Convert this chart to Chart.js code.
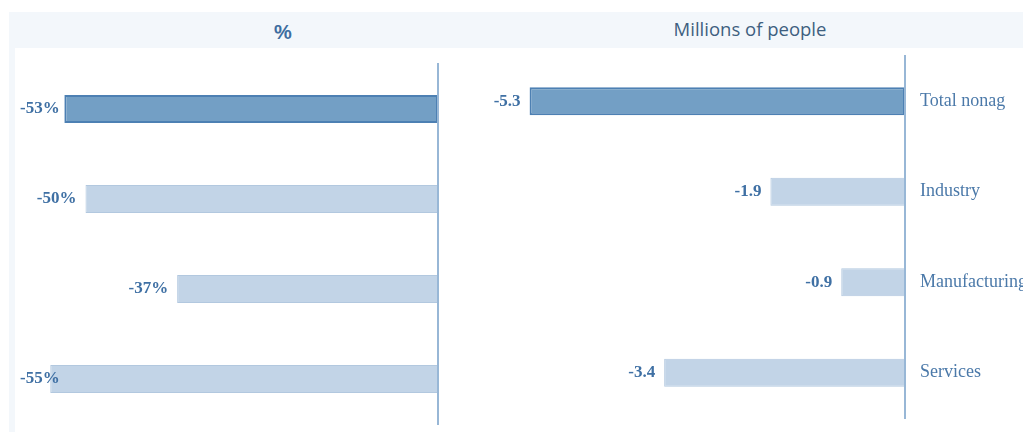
<!DOCTYPE html>
<html>
<head>
<meta charset="utf-8">
<script src="https://cdn.jsdelivr.net/npm/chart.js@4/dist/chart.umd.min.js"></script>
<style>
  html, body { margin: 0; padding: 0; background: #fff; overflow: hidden; }
  body { width: 1023px; height: 432px; position: relative; }
  .band { position: absolute; left: 9px; top: 12px; width: 1014px; height: 36px; background: #f3f7fb; }
  .strip { position: absolute; left: 9px; top: 48px; width: 6px; height: 384px; background: #f3f7fb; }
  .title { position: absolute; white-space: nowrap; transform: translateX(-50%); }
  #pctTitle { left: 283px; top: 21px; font: bold 20px "Liberation Sans", Arial, sans-serif; color: #3d6d9f; }
  #mopTitle { left: 750px; top: 16px; font: 18.5px "Open Sans", sans-serif; color: #3e5f80; }
  canvas { position: absolute; }
  #pctChart { left: 15px; top: 48px; }
  #mopChart { left: 450px; top: 48px; }
</style>
</head>
<body>
<div class="band"></div>
<div class="strip"></div>
<div class="title" id="pctTitle">%</div>
<div class="title" id="mopTitle">Millions of people</div>
<canvas id="pctChart" width="440" height="384"></canvas>
<canvas id="mopChart" width="573" height="384"></canvas>

<script>
// Job losses by sector
const sectors = ['Total nonag', 'Industry', 'Manufacturing', 'Services'];
const pctChange = [-53, -50, -37, -55];      // percent
const peopleChange = [-5.3, -1.9, -0.9, -3.4]; // millions of people

const darkFill = '#739fc5';
const darkEdge = '#4d80b3';
const lightFill = '#c2d4e7';
const lightEdge = '#b2c8df';

// value labels left of each bar, zero line, optional category names to the right
const barLabels = {
    id: 'barLabels',
    afterDatasetsDraw(chart, args, opts) {
        const ctx = chart.ctx;
        const area = chart.chartArea;
        const zero = chart.scales.x.getPixelForValue(0);
        const values = chart.data.datasets[0].data;
        ctx.save();

        ctx.strokeStyle = '#98b7d6';
        ctx.lineWidth = 2;
        ctx.beginPath();
        ctx.moveTo(zero, area.top - 1);
        ctx.lineTo(zero, area.bottom + 1);
        ctx.stroke();

        ctx.textBaseline = 'middle';
        chart.getDatasetMeta(0).data.forEach(function(bar, i) {
            ctx.font = 'bold 17px "Liberation Serif", serif';
            ctx.fillStyle = '#3f70a4';
            ctx.textAlign = 'right';
            const txt = opts.format(values[i]);
            const w = ctx.measureText(txt).width;
            const x = Math.max(bar.x - 9, opts.minX + w);
            ctx.fillText(txt, x, bar.y);

            if (opts.showCategories) {
                ctx.font = '18px "Liberation Serif", serif';
                ctx.fillStyle = '#4b79a9';
                ctx.textAlign = 'left';
                ctx.fillText(chart.data.labels[i], zero + 15, bar.y);
            }
        });
        ctx.restore();
    }
};

function makeChart(id, values, min, padding, labelOpts) {
    return new Chart(document.getElementById(id), {
        type: 'bar',
        data: {
            labels: sectors,
            datasets: [{
                data: values,
                backgroundColor: values.map((v, i) => i === 0 ? darkFill : lightFill),
                borderColor: values.map((v, i) => i === 0 ? darkEdge : lightEdge),
                borderWidth: values.map((v, i) => i === 0 ? 2 : 1),
                borderSkipped: false,
                barPercentage: 0.31,
                categoryPercentage: 1
            }]
        },
        options: {
            indexAxis: 'y',
            responsive: false,
            animation: false,
            layout: { padding: padding },
            plugins: {
                legend: { display: false },
                tooltip: { enabled: false },
                barLabels: labelOpts
            },
            scales: {
                x: { display: false, min: min, max: 0 },
                y: { display: false }
            }
        },
        plugins: [barLabels]
    });
}

makeChart('pctChart', pctChange, -60,
    { left: 0, right: 17, top: 16, bottom: 8 },
    { format: v => v + '%', minX: 5, showCategories: false });

makeChart('mopChart', peopleChange, -6,
    { left: 30, right: 118, top: 8, bottom: 14 },
    { format: v => v.toFixed(1), minX: 0, showCategories: true });
</script>
</body>
</html>
